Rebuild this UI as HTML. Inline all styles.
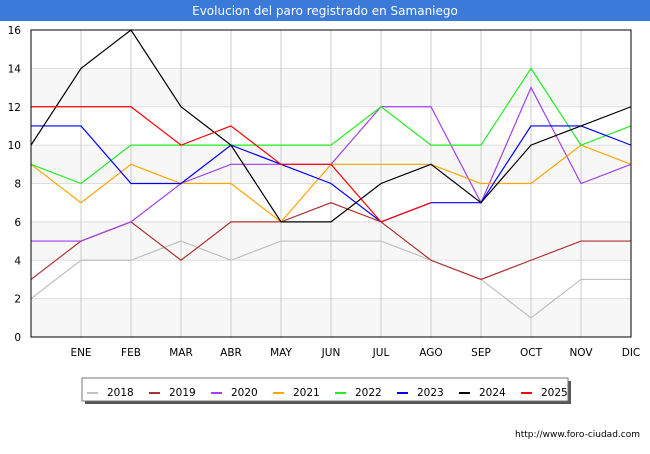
<!DOCTYPE html>
<html><head><meta charset="utf-8"><style>
body{margin:0;width:650px;height:450px;background:#fff;font-family:"DejaVu Sans","Liberation Sans",sans-serif;overflow:hidden}
</style></head><body>
<svg id="c" width="650" height="450" xmlns="http://www.w3.org/2000/svg">
<rect x="0" y="0" width="650" height="21" fill="#3b7ad9"/>
<text x="325" y="15" text-anchor="middle" fill="#fff" font-size="12">Evolucion del paro registrado en Samaniego</text>
<g id="grid"></g>
<g id="lines"></g>
<rect x="31" y="30" width="600" height="307" fill="none" stroke="#000" stroke-width="1"/>
<g id="legend"></g>
<text x="640" y="437" text-anchor="end" font-size="9" fill="#000">http://www.foro-ciudad.com</text>
</svg>
<script>
const months=["","ENE","FEB","MAR","ABR","MAY","JUN","JUL","AGO","SEP","OCT","NOV","DIC"];
const yTicks=[0,2,4,6,8,10,12,14,16];
const years=["2018","2019","2020","2021","2022","2023","2024","2025"];
const colors=["#c0c0c0","#b03030","#a040f0","#ffa500","#22ee22","#0000ff","#000000","#ff0000"];
const s2018=[2,4,4,5,4,5,5,5,4,3,1,3,3];
const s2019=[3,5,6,4,6,6,7,6,4,3,4,5,5];
const s2020=[5,5,6,8,9,9,9,12,12,7,13,8,9];
const s2021=[9,7,9,8,8,6,9,9,9,8,8,10,9];
const s2022=[9,8,10,10,10,10,10,12,10,10,14,10,11];
const s2023=[11,11,8,8,10,9,8,6,7,7,11,11,10];
const s2024=[10,14,16,12,10,6,6,8,9,7,10,11,12];
const s2025=[12,12,12,10,11,9,9,6,7];
const series=[s2018,s2019,s2020,s2021,s2022,s2023,s2024,s2025];
const NS="http://www.w3.org/2000/svg";
const X=i=>31+i*50, Y=v=>337-v*(307/16);
const g=document.getElementById('grid'), L=document.getElementById('lines'), lg=document.getElementById('legend');
function mk(t,a,p){const e=document.createElementNS(NS,t);for(const k in a)e.setAttribute(k,a[k]);p.appendChild(e);return e;}
for(let i=0;i<yTicks.length-1;i+=2){
 const b=mk('rect',{x:31,y:Y(yTicks[i+1]),width:600,height:Y(yTicks[i])-Y(yTicks[i+1]),fill:'#f7f7f7'},g);
 
 
}
yTicks.forEach(v=>{
 const l=mk('line',{x1:31,x2:631,y1:Y(v),y2:Y(v),stroke:'#ddd'},g);
 
 
 const t=mk('text',{x:21,y:Y(v)+4,'text-anchor':'end','font-size':10.5},g);t.textContent=v;
 
 
});
months.forEach((m,i)=>{
 const l=mk('line',{x1:X(i),x2:X(i),y1:30,y2:337,stroke:'#ccc'},g);
 
 
 if(m){const t=mk('text',{x:X(i),y:356,'text-anchor':'middle','font-size':10.5},g);t.textContent=m;
 
 }
});
series.forEach((s,k)=>{
 const p=mk('polyline',{points:s.map((v,i)=>X(i)+','+Y(v)).join(' '),fill:'none',stroke:colors[k],'stroke-width':1.2},L);
 
 
});
const sh=mk('rect',{x:85,y:381,width:486,height:23,fill:'#555'},lg);


const box=mk('rect',{x:82,y:378,width:486,height:23,fill:'#fff',stroke:'#777'},lg);


years.forEach((y,k)=>{
 const x0=87+k*62;
 const sw=mk('rect',{x:x0,y:392,width:11,height:2,fill:colors[k]},lg);
 
 
 const t=mk('text',{x:x0+20,y:396,'font-size':10.5},lg);t.textContent=y;
 
 
});
</script>
</body></html>
